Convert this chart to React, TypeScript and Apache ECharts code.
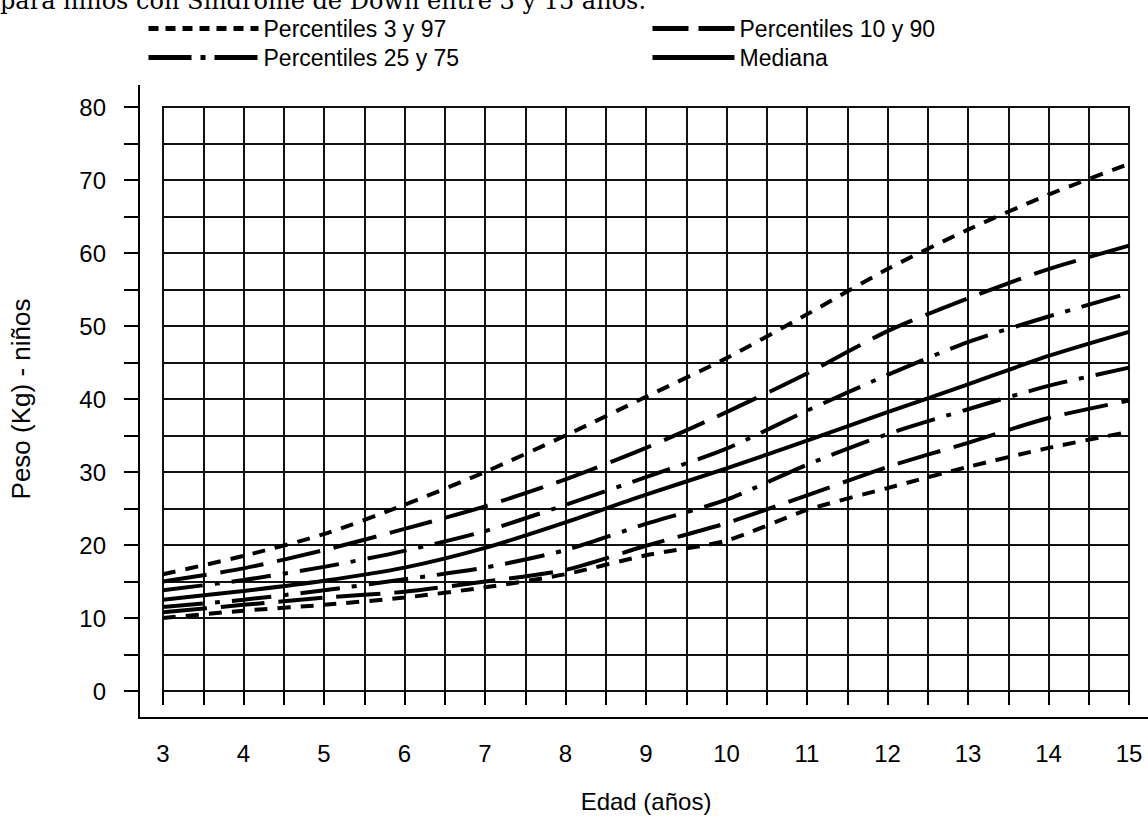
import React, { useEffect, useRef } from "react";
import * as echarts from "echarts";

// ---- data ----
const ages = [3, 4, 5, 6, 7, 8, 9, 10, 11, 12, 13, 14, 15];
const p97 = [16.0, 18.5, 21.5, 25.5, 30.0, 35.0, 40.3, 45.6, 51.6, 57.8, 63.2, 68.0, 72.2];
const p90 = [15.0, 16.8, 19.3, 22.2, 25.3, 29.0, 33.3, 38.2, 43.5, 49.3, 53.8, 57.8, 61.0];
const p75 = [13.8, 15.2, 17.0, 19.2, 21.9, 25.5, 29.3, 33.2, 38.4, 43.3, 47.8, 51.3, 54.5];
const p50 = [12.5, 13.7, 15.1, 16.9, 19.6, 23.1, 26.9, 30.5, 34.3, 38.2, 42.0, 45.9, 49.2];
const p25 = [11.5, 12.5, 13.8, 15.3, 16.9, 19.3, 22.9, 26.2, 31.0, 35.2, 38.6, 41.8, 44.3];
const p10 = [10.8, 11.8, 12.8, 13.6, 15.0, 16.6, 19.9, 23.0, 26.8, 30.7, 34.0, 37.4, 39.8];
const p3 = [10.0, 11.0, 11.8, 12.8, 14.2, 16.0, 18.6, 20.6, 24.8, 27.8, 30.7, 33.3, 35.5];

const nameP3_97 = "Percentiles 3 y 97";
const nameP10_90 = "Percentiles 10 y 90";
const nameP25_75 = "Percentiles 25 y 75";
const nameMed = "Mediana";

const titleText = "para niños con Síndrome de Down entre 3 y 15 años.";
const xAxisName = "Edad (años)";
const yAxisName = "Peso (Kg) - niños";

const xMin = 3;
const xMax = 15;
const yMin = 0;
const yMax = 80;

const FONT = '"Liberation Sans", Arial, Helvetica, sans-serif';

const dashShort = [13, 10];
const dashLong = [44, 14];
const dashDot = [40, 12, 5, 12];

function mk(name: string, values: number[], dash: any) {
  return {
    type: "line",
    name,
    data: ages.map((a, i) => [a, values[i]]),
    symbol: "none",
    smooth: 0.25,
    lineStyle: { color: "#000", width: 4, type: dash, cap: "butt" },
    itemStyle: { color: "#000" },
    z: 5,
  };
}

export default function App() {
  const ref = useRef<HTMLDivElement>(null);

  useEffect(() => {
    if (!ref.current) return;
    const chart = echarts.init(ref.current, null, { renderer: "svg" });
    const legendText = { fontSize: 23, color: "#000", fontFamily: FONT, lineHeight: 29 };
    chart.setOption({
      animation: false,
      backgroundColor: "#fff",
      grid: {
        left: 162,
        right: 19,
        top: 107,
        bottom: 122,
        show: true,
        borderColor: "#000",
        borderWidth: 2,
        containLabel: false,
      },
      legend: [
        {
          orient: "vertical",
          left: 141,
          top: 9,
          itemWidth: 110,
          itemHeight: 14,
          itemGap: 0,
          selectedMode: false,
          textStyle: legendText,
          itemStyle: { opacity: 0, borderWidth: 0 },
          data: [
            { name: nameP3_97, lineStyle: { type: [10, 7], width: 5, color: "#000" } },
            { name: nameP25_75, lineStyle: { type: [43, 9, 5, 9], width: 5, color: "#000" } },
          ],
        },
        {
          orient: "vertical",
          left: 645,
          top: 9,
          itemWidth: 82,
          itemHeight: 14,
          itemGap: 0,
          selectedMode: false,
          textStyle: legendText,
          itemStyle: { opacity: 0, borderWidth: 0 },
          data: [
            { name: nameP10_90, lineStyle: { type: [36, 10], width: 5, color: "#000" } },
            { name: nameMed, lineStyle: { type: "solid", width: 5, color: "#000" } },
          ],
        },
      ],
      xAxis: {
        type: "value",
        min: xMin,
        max: xMax,
        interval: 0.5,
        offset: 22,
        axisLine: { show: false },
        axisTick: { show: true, length: 14, lineStyle: { color: "#000", width: 2 } },
        axisLabel: {
          formatter: (v: number) => (Number.isInteger(v) ? String(v) : ""),
          fontSize: 24,
          color: "#000",
          fontFamily: FONT,
          margin: 28,
          showMinLabel: true,
          showMaxLabel: true,
        },
        splitLine: { show: true, lineStyle: { color: "#111", width: 2 } },
        name: xAxisName,
        nameLocation: "middle",
        nameGap: 76,
        nameTextStyle: { fontSize: 24, color: "#000", fontFamily: FONT },
      },
      yAxis: {
        type: "value",
        min: yMin,
        max: yMax,
        interval: 5,
        offset: 23,
        axisLine: { show: false },
        axisTick: { show: true, length: 16, lineStyle: { color: "#000", width: 2 } },
        axisLabel: {
          formatter: (v: number) => (v % 10 === 0 ? String(v) : ""),
          fontSize: 24,
          color: "#000",
          fontFamily: FONT,
          margin: 34,
        },
        splitLine: { show: true, lineStyle: { color: "#111", width: 2 } },
        name: yAxisName,
        nameLocation: "middle",
        nameGap: 106,
        nameTextStyle: { fontSize: 26, color: "#000", fontFamily: FONT },
      },
      graphic: [
        {
          type: "polyline",
          shape: { points: [[139, 85], [139, 718], [1150, 718]] },
          style: { stroke: "#000", lineWidth: 2, fill: null },
          z: 10,
        },
        {
          type: "text",
          x: 0,
          y: 1,
          style: {
            text: titleText,
            font: '24px "DejaVu Serif", serif',
            fill: "#000",
            verticalAlign: "middle",
            align: "left",
          },
          z: 10,
        },
      ],
      series: [
        mk(nameP3_97, p97, dashShort),
        mk(nameP10_90, p90, dashLong),
        mk(nameP25_75, p75, dashDot),
        mk(nameMed, p50, "solid"),
        mk(nameP25_75, p25, dashDot),
        mk(nameP10_90, p10, dashLong),
        mk(nameP3_97, p3, dashShort),
      ],
    });
    return () => chart.dispose();
  }, []);

  return (
    <div
      ref={ref}
      style={{ position: "fixed", left: 0, top: 0, width: 1148, height: 818, background: "#fff" }}
    />
  );
}
